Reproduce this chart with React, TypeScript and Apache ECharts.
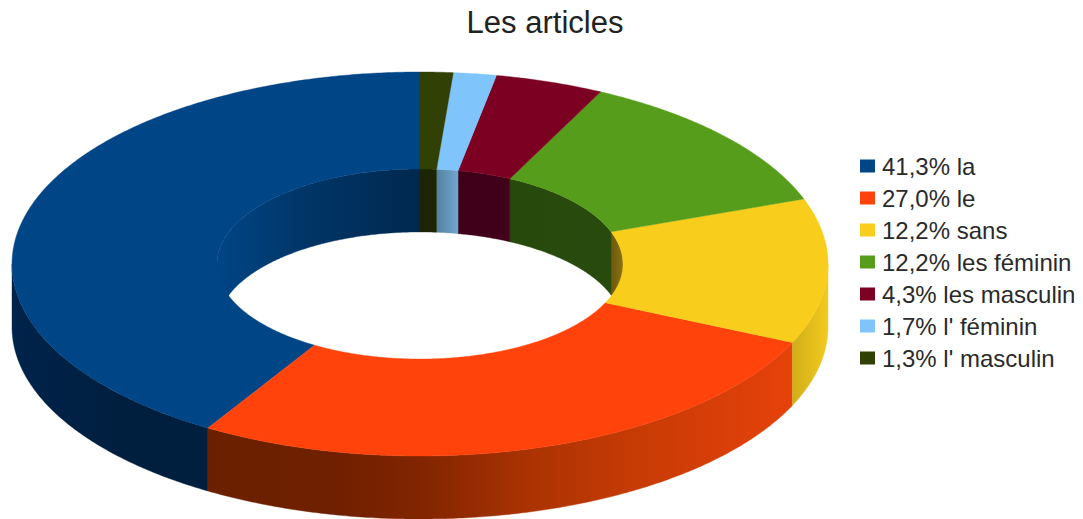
import React, { useEffect, useRef } from "react";
import * as echarts from "echarts";

const names = ["la", "le", "sans", "les féminin", "les masculin", "l' féminin", "l' masculin"];
const percents = [41.3, 27.0, 12.2, 12.2, 4.3, 1.7, 1.3];
const topColors = ["#004586", "#ff430b", "#f9cd1c", "#579d1c", "#7c0021", "#7fc4fa", "#314004"];
const legendColors = ["#004586", "#ff430b", "#f9cd1c", "#579d1c", "#7c0021", "#7fc4fa", "#314004"];

type Stop = [number, string];
// Side shading, given as [pixel x, colour]
const outerWallStops: Stop[][] = [
  [[12, "#00234a"], [120, "#001f3f"], [207, "#001f3e"]],
  [[207, "#6a2000"], [340, "#702000"], [430, "#842600"], [530, "#ab3302"], [640, "#c83b05"], [792, "#e6420a"]],
  [[792, "#d0ae1a"], [828, "#f2ca1e"]],
  [[0, "#000000"]],
  [[0, "#000000"]],
  [[0, "#000000"]],
  [[0, "#000000"]],
];
const innerWallStops: Stop[][] = [
  [[217, "#004586"], [300, "#003668"], [420, "#00284f"]],
  [[0, "#000000"]],
  [[612, "#6e5a0c"], [623, "#8a7212"]],
  [[510, "#274a0c"], [612, "#284a0e"]],
  [[458, "#3e0018"], [510, "#42001a"]],
  [[436, "#56809e"], [458, "#6fa6cf"]],
  [[420, "#1b2403"], [436, "#1d2604"]],
];

const CX = 420;
const CY = 264;
const RX = 408;
const RY = 192;
const HOLE = 0.4975;
const DEPTH = 63;

const pt = (deg: number, rx: number, ry: number, dy = 0): number[] => {
  const a = (deg * Math.PI) / 180;
  return [CX - rx * Math.sin(a), CY - ry * Math.cos(a) + dy];
};
const arc = (from: number, to: number, rx: number, ry: number, dy = 0) => {
  const n = Math.max(2, Math.ceil(Math.abs(to - from) * 2));
  const out: number[][] = [];
  for (let i = 0; i <= n; i++) out.push(pt(from + ((to - from) * i) / n, rx, ry, dy));
  return out;
};
const wall = (from: number, to: number, rx: number, ry: number) =>
  arc(from, to, rx, ry).concat(arc(to, from, rx, ry, DEPTH));

const gradient = (stops: Stop[]) => {
  const x0 = stops[0][0];
  const x1 = stops[stops.length - 1][0];
  if (x1 === x0) return stops[0][1];
  return new echarts.graphic.LinearGradient(
    x0, 0, x1, 0,
    stops.map(([x, color]) => ({ offset: (x - x0) / (x1 - x0), color })),
    true
  );
};

const polygon = (points: number[][], fill: any, z2: number) => ({
  type: "polygon",
  z2,
  silent: true,
  shape: { points },
  style: { fill, stroke: fill, lineWidth: 0.4 },
});

const labelOf = (i: number) => `${percents[i].toFixed(1).replace(".", ",")}% ${names[i]}`;

const buildSeries = () => {
  let cum = 0;
  return percents.map((p, i) => {
    const before = cum;
    cum += p;
    return {
      type: "custom",
      name: labelOf(i),
      coordinateSystem: "none",
      silent: true,
      itemStyle: { color: legendColors[i] },
      data: [[p, before]],
      renderItem: (_params: any, api: any) => {
        const from = (api.value(1) / 100) * 360;
        const to = from + (api.value(0) / 100) * 360;
        const children: any[] = [];
        // inner wall: only the far half of the hole can be seen
        const ranges = [
          [from, Math.min(to, 90)],
          [Math.max(from, 270), to],
        ];
        ranges.forEach(([a, b]) => {
          if (b > a) children.push(polygon(wall(a, b, RX * HOLE, RY * HOLE * 0.995), gradient(innerWallStops[i]), 1));
        });
        // outer wall: only the near half can be seen
        const fa = Math.max(from, 90);
        const fb = Math.min(to, 270);
        if (fb > fa) children.push(polygon(wall(fa, fb, RX, RY), gradient(outerWallStops[i]), 2));
        // top face
        const top = arc(from, to, RX, RY).concat(arc(to, from, RX * HOLE, RY * HOLE * 0.995));
        children.push(polygon(top, topColors[i], 3));
        return { type: "group", children };
      },
    };
  });
};

export default function App() {
  const ref = useRef<HTMLDivElement>(null);
  useEffect(() => {
    const chart = echarts.init(ref.current!, null, { renderer: "svg" });
    chart.setOption({
      animation: false,
      backgroundColor: "#ffffff",
      title: {
        text: "Les articles",
        left: 540,
        top: 2,
        textAlign: "center",
        textStyle: { fontFamily: "Liberation Sans", fontSize: 31, fontWeight: "normal", color: "#222222" },
      },
      legend: {
        orient: "vertical",
        left: 855,
        top: 149,
        icon: "rect",
        itemWidth: 15,
        itemHeight: 13,
        itemGap: 8,
        selectedMode: false,
        data: percents.map((_, i) => labelOf(i)),
        textStyle: { fontFamily: "Liberation Sans", fontSize: 24, lineHeight: 24, color: "#2a2a2a", padding: [0, 0, 0, 2] },
      },
      series: buildSeries(),
    });
    return () => chart.dispose();
  }, []);
  return <div ref={ref} style={{ position: "fixed", left: 0, top: 0, width: 1083, height: 519 }} />;
}
